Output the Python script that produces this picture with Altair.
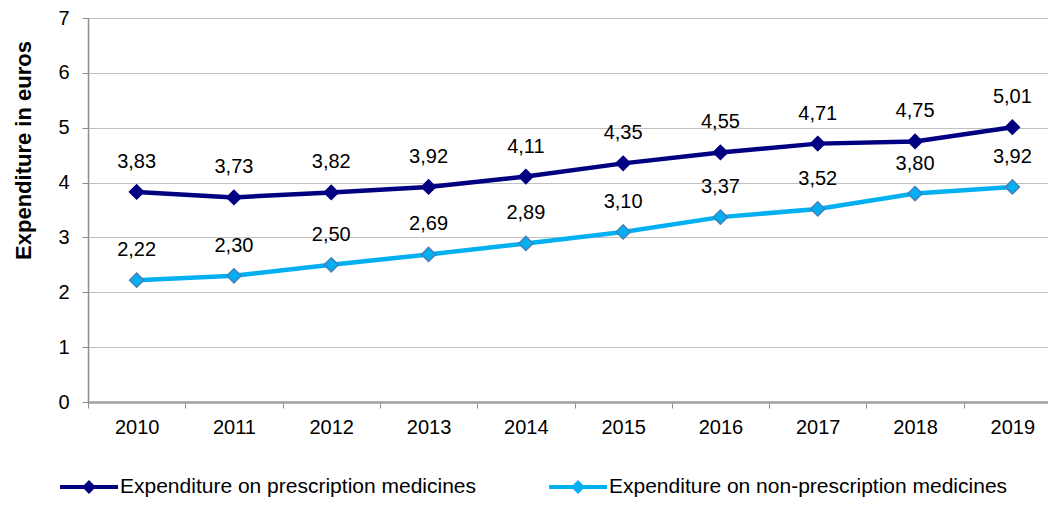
import altair as alt
import pandas as pd

years = ["2010", "2011", "2012", "2013", "2014", "2015", "2016", "2017", "2018", "2019"]
prescription = [3.83, 3.73, 3.82, 3.92, 4.11, 4.35, 4.55, 4.71, 4.75, 5.01]
non_prescription = [2.22, 2.30, 2.50, 2.69, 2.89, 3.10, 3.37, 3.52, 3.80, 3.92]
series_names = ["Expenditure on prescription medicines", "Expenditure on non-prescription medicines"]
series_colors = ["#000080", "#00B0F0"]

rows = []
for name, vals in zip(series_names, [prescription, non_prescription]):
    for y, v in zip(years, vals):
        rows.append({"year": y, "value": v, "series": name,
                     "label": f"{v:.2f}".replace(".", ",")})
df = pd.DataFrame(rows)

FONT = "Liberation Sans"
FS = 20
legend_symbol = "M-1,-0.07H1V0.07H-1Z M0,-0.24L0.24,0L0,0.24L-0.24,0Z"

legend = alt.Legend(title=None, orient="none", legendX=-28, legendY=440, padding=0,
                    direction="horizontal", symbolType=legend_symbol,
                    symbolSize=3364, symbolStrokeWidth=0, labelFontSize=21,
                    labelFont=FONT, labelColor="#000000", labelOffset=2,
                    columnPadding=72, labelLimit=600, symbolOpacity=1)

x = alt.X("year:N", title=None,
          scale=alt.Scale(range=[0, 973], paddingInner=0, paddingOuter=0),
          axis=alt.Axis(labelAngle=0, labelFontSize=FS, labelColor="#000000", labelFont=FONT,
                        tickBand="extent", tickSize=6, tickColor="#8c8c8c", tickWidth=1,
                        domainColor="#a0a0a0", domainWidth=2.5, labelPadding=9, grid=False))
y = alt.Y("value:Q", title="Expenditure in euros",
          scale=alt.Scale(domain=[0, 7], nice=False),
          axis=alt.Axis(values=[0, 1, 2, 3, 4, 5, 6, 7], labelFontSize=FS, labelFont=FONT,
                        labelColor="#000000", tickSize=6, tickColor="#8c8c8c",
                        domainColor="#8c8c8c", domainWidth=1.5, gridColor="#c0c0c0",
                        gridWidth=1.2, labelPadding=13, titleFontSize=22, titleFont=FONT,
                        titleFontWeight="bold", titleColor="#000000", titlePadding=22,
                        titleY=132))
color = alt.Color("series:N", scale=alt.Scale(domain=series_names, range=series_colors),
                  legend=legend)

base = alt.Chart(df)

lines = base.mark_line(strokeWidth=4.5).encode(x=x, y=y, color=color)

points = base.mark_point(shape="diamond", size=200, filled=True, opacity=1).encode(
    x=x, y=y, color=color,
    stroke=alt.condition(alt.datum.series == series_names[1], alt.value("#4a7ebb"),
                         alt.value("#000080")),
    strokeWidth=alt.value(1.5),
)

labels = base.mark_text(dy=-30, fontSize=FS, font=FONT, color="#000000").encode(
    x=x, y=y, text="label:N")

chart = alt.layer(lines, points, labels).properties(
    width=960, height=384,
    autosize=alt.AutoSizeParams(type="none"),
    padding={"left": 80, "top": 10, "right": 0, "bottom": 96},
).configure_view(stroke=None)

chart.save("out.html", embed_options={"renderer": "svg", "actions": False})
